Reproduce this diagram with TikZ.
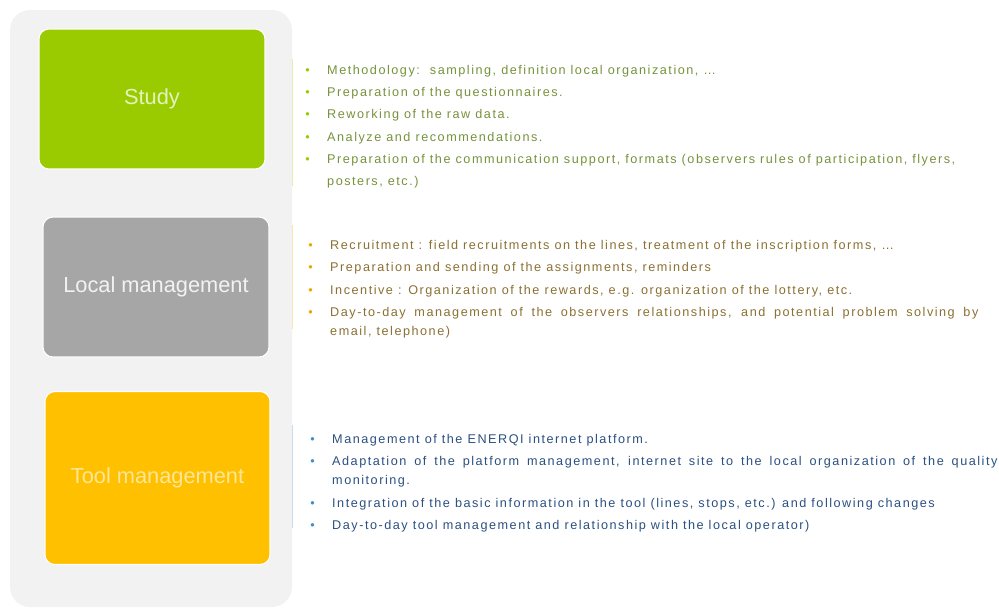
\documentclass[tikz,border=0pt]{standalone}
\usepackage{fontspec}
\setmainfont{Liberation Sans}
\newfontfamily\listfont[LetterSpace=12]{Liberation Sans}
\usepackage{xcolor}
\usetikzlibrary{positioning}

\definecolor{panelgray}{HTML}{F2F2F2}
\definecolor{studygreen}{HTML}{9ACB00}
\definecolor{localgray}{HTML}{A6A6A6}
\definecolor{toolyellow}{HTML}{FFC000}
\definecolor{studytxt}{HTML}{76923C}
\definecolor{localtxt}{HTML}{8A7032}
\definecolor{tooltxt}{HTML}{2A5080}
\definecolor{studybul}{HTML}{99CC00}
\definecolor{localbul}{HTML}{E6A800}
\definecolor{toolbul}{HTML}{3D8FC4}

% one bulleted entry, hanging indent under the bullet
\newlength{\dutyskip}
\setlength{\dutyskip}{2.5pt}
\newcommand{\bulletcol}{black}
\newcommand{\duty}[1]{\par\hangindent=15.6pt\hangafter=1\noindent
  \makebox[15.6pt][l]{\textcolor{\bulletcol}{\textbullet}}#1\par\vspace{\dutyskip}}

\begin{document}
\begin{tikzpicture}[x=0.025cm, y=-0.025cm,
    stage/.style={rectangle, rounded corners=0.25cm, draw=white, line width=0.8pt,
      minimum width=5.65cm, minimum height=3.5cm, font=\fontsize{15.5}{18}\selectfont},
    duties/.style={anchor=north west, inner sep=0pt, text width=16.8cm, align=justify,
      font=\listfont\fontsize{9}{13.5}\selectfont},
    edge/.style={line width=0.7pt}
]
\useasboundingbox (0,0) rectangle (999,607);

% grey column behind the three stages
\fill[panelgray, rounded corners=0.5cm] (10,10) rectangle (292,607);

\node[stage, fill=studygreen, text=studybul!25] (study) at (152,99) {Study};
\node[stage, fill=localgray, text=panelgray] (local) at (156,287) {Local management};
\node[stage, fill=toolyellow, text=toolyellow!40, minimum width=5.625cm, minimum height=4.325cm]
  (tool) at (157.5,478) {Tool management};

% faint rules at the column edge
\draw[edge, studybul!30] (292,59) -- (292,186);
\draw[edge, localbul!30] (292,225) -- (292,329);
\draw[edge, toolbul!30] (292,425) -- (292,528);

\node[duties, text=studytxt, font=\listfont\fontsize{9}{15.8}\selectfont] (studylist) at (305,52) {%
  \renewcommand{\bulletcol}{studybul}\setlength{\dutyskip}{0pt}%
  \duty{Methodology:\ \ sampling, definition local organization, \dots}
  \duty{Preparation of the questionnaires.}
  \duty{Reworking of the raw data.}
  \duty{Analyze and recommendations.}
  \duty{Preparation of the communication support, formats (observers rules of participation, flyers,\newline posters, etc.)}};

\node[duties, text=localtxt, text width=16.75cm] (locallist) at (308,230) {%
  \renewcommand{\bulletcol}{localbul}%
  \duty{Recruitment : field recruitments on the lines, treatment of the inscription forms, \dots}
  \duty{Preparation and sending of the assignments, reminders}
  \duty{Incentive : Organization of the rewards, e.g. organization of the lottery, etc.}
  \duty{Day-to-day management of the observers relationships, and potential problem solving by\linebreak email, telephone)}};

\node[duties, text=tooltxt, text width=17.175cm] (toollist) at (310,424) {%
  \renewcommand{\bulletcol}{toolbul}%
  \duty{Management of the ENERQI internet platform.}
  \duty{Adaptation of the platform management, internet site to the local organization of the quality\linebreak monitoring.}
  \duty{Integration of the basic information in the tool (lines, stops, etc.) and following changes}
  \duty{Day-to-day tool management and relationship with the local operator)}};
\end{tikzpicture}
\end{document}
